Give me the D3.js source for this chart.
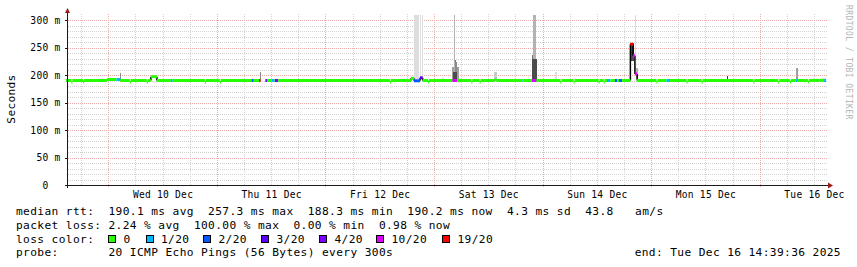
<!DOCTYPE html>
<html>
<head>
<meta charset="utf-8">
<script src="https://cdn.jsdelivr.net/npm/d3@7"></script>
<style>
  body { margin: 0; background: #fff; }
  svg { display: block; }
  text { font-family: "DejaVu Sans Mono", monospace; fill: #000; }
</style>
</head>
<body>
<div id="chart"></div>
<script>
// ---- data ----
const yTickValues = [0, 50, 100, 150, 200, 250, 300];
const yTickLabels = ["0  ", "50 m", "100 m", "150 m", "200 m", "250 m", "300 m"];

const dayLabels = ["Wed 10 Dec", "Thu 11 Dec", "Fri 12 Dec", "Sat 13 Dec", "Sun 14 Dec", "Mon 15 Dec", "Tue 16 Dec"];
const dayNoons = ["12-10 12:00", "12-11 12:00", "12-12 12:00", "12-13 12:00", "12-14 12:00", "12-15 12:00", "12-16 12:00"];

const lossLevels = [0, 1, 2, 3, 4, 10, 19];
const lossLabels = ["0", "1/20", "2/20", "3/20", "4/20", "10/20", "19/20"];
const lossColors = ["#26ff00", "#00b8ff", "#0059ff", "#5e00ff", "#7e00ff", "#dd00ff", "#ff0000"];

// median rtt in ms, step values [time, ms] (null = no data)
const medianSteps = [
  ["12-09 14:40", 190.0],
  ["12-09 15:50", 187.5], ["12-09 16:05", 190.0],
  ["12-09 18:25", 187.5], ["12-09 18:40", 190.0],
  ["12-09 23:45", 191.8], ["12-10 02:40", 190.0],
  ["12-10 04:45", 187.5], ["12-10 05:00", 190.0],
  ["12-10 08:30", 187.5], ["12-10 08:45", 190.0],
  ["12-10 09:25", 197.0], ["12-10 10:45", 190.0],
  ["12-10 21:20", 187.5], ["12-10 21:35", 190.0],
  ["12-11 00:40", 187.5], ["12-11 00:55", 190.0],
  ["12-11 09:40", null],  ["12-11 10:40", 190.0],
  ["12-12 14:15", 187.5], ["12-12 14:30", 190.0],
  ["12-12 18:55", 194.0], ["12-12 19:35", 189.5],
  ["12-12 20:55", 195.0], ["12-12 21:30", 190.0],
  ["12-12 22:40", 187.5], ["12-12 22:55", 190.0],
  ["12-13 08:15", 187.5], ["12-13 08:30", 190.0],
  ["12-13 10:05", 187.5], ["12-13 10:20", 190.0],
  ["12-13 13:25", 191.5], ["12-13 13:55", 190.0],
  ["12-14 03:55", 187.5], ["12-14 04:10", 190.0],
  ["12-14 06:50", 187.5], ["12-14 07:05", 190.0],
  ["12-14 12:25", 187.5], ["12-14 12:40", 190.0],
  ["12-14 13:30", 187.5], ["12-14 13:45", 190.0],
  ["12-14 19:25", 256.0], ["12-14 20:00", 235.0],
  ["12-14 20:25", 202.0], ["12-14 20:55", 190.0],
  ["12-15 01:10", 187.5], ["12-15 01:25", 190.0],
  ["12-15 07:50", 187.5], ["12-15 08:05", 190.0],
  ["12-15 11:10", 187.5], ["12-15 11:25", 190.0],
  ["12-15 22:35", 187.5], ["12-15 22:50", 190.0],
  ["12-16 04:05", 187.5], ["12-16 04:20", 190.0],
  ["12-16 06:40", 187.5], ["12-16 06:55", 190.0],
  ["12-16 10:40", 187.5], ["12-16 10:55", 190.2]
];

// packet loss periods [start, end, lost pings of 20]; everything else is 0
const lossSpans = [
  ["12-10 01:50", "12-10 02:40", 1],
  ["12-10 13:50", "12-10 14:15", 1],
  ["12-11 07:40", "12-11 08:10", 2],
  ["12-11 09:20", "12-11 09:40", 19],
  ["12-11 10:45", "12-11 11:05", 3],
  ["12-11 12:10", "12-11 12:45", 1],
  ["12-11 12:50", "12-11 13:35", 4],
  ["12-12 19:35", "12-12 20:55", 2],
  ["12-12 20:55", "12-12 21:30", 3],
  ["12-13 04:05", "12-13 05:10", 10],
  ["12-13 19:35", "12-13 19:50", 1],
  ["12-13 21:35", "12-13 22:40", 10],
  ["12-14 14:15", "12-14 15:00", 1],
  ["12-14 16:00", "12-14 16:30", 2],
  ["12-14 16:55", "12-14 17:35", 2],
  ["12-14 19:25", "12-14 20:00", 19],
  ["12-14 20:00", "12-14 20:55", 10],
  ["12-15 03:25", "12-15 04:10", 1],
  ["12-16 08:00", "12-16 08:25", 1],
  ["12-16 12:40", "12-16 12:55", 1],
  ["12-16 14:15", "12-16 14:40", 1]
];

// smoke: spread of the 20 pings [start, end, low ms, high ms, density 1..10]
const smokeBands = [
  ["12-10 02:30", "12-10 02:45", 190, 203, 5],
  ["12-11 09:30", "12-11 09:45", 190, 205, 5],
  ["12-12 19:35", "12-12 20:40", 192, 309, 1],
  ["12-12 20:50", "12-12 21:00", 195, 309, 1],
  ["12-12 21:20", "12-12 21:30", 195, 309, 1],
  ["12-13 01:45", "12-13 02:15", 190, 195, 1],
  ["12-13 04:00", "12-13 04:20", 190, 215, 4],
  ["12-13 04:20", "12-13 04:40", 190, 227, 6],
  ["12-13 04:40", "12-13 05:00", 190, 224, 5],
  ["12-13 05:00", "12-13 05:20", 190, 215, 4],
  ["12-13 04:25", "12-13 04:35", 190, 309, 3],
  ["12-13 04:10", "12-13 05:00", 190, 205, 8],
  ["12-13 13:10", "12-13 13:55", 190, 205, 2],
  ["12-13 21:35", "12-13 22:00", 190, 236, 6],
  ["12-13 22:00", "12-13 22:45", 190, 309, 3],
  ["12-13 21:45", "12-13 22:45", 190, 230, 8],
  ["12-14 02:45", "12-14 03:05", 190, 205, 1],
  ["12-14 20:25", "12-14 20:40", 200, 309, 1],
  ["12-14 19:25", "12-14 20:20", 225, 258, 8],
  ["12-14 20:35", "12-14 20:55", 195, 212, 3],
  ["12-15 16:50", "12-15 17:00", 190, 198, 9],
  ["12-15 17:10", "12-15 21:35", 190, 193, 1],
  ["12-16 08:00", "12-16 08:25", 190, 212, 4],
  ["12-16 13:40", "12-16 14:35", 190, 194, 1]
];

const statLines = [
  "median rtt:  190.1 ms avg  257.3 ms max  188.3 ms min  190.2 ms now  4.3 ms sd  43.8   am/s",
  "packet loss: 2.24 % avg  100.00 % max  0.00 % min  0.98 % now"
];
const probeLine = "probe:       20 ICMP Echo Pings (56 Bytes) every 300s";
const endLine = "end: Tue Dec 16 14:39:36 2025";

// ---- layout ----
const W = 857, H = 267;
const plot = { left: 66, right: 826, top: 15, bottom: 185, gridRight: 828 };
const axisX = 67.5;

const parse = d3.timeParse("%Y-%m-%d %H:%M");
const p = s => parse("2025-" + s);
const tStart = new Date(2025, 11, 9, 14, 39, 36);
const tEnd = new Date(2025, 11, 16, 14, 39, 36);

const x = d3.scaleTime().domain([tStart, tEnd]).range([plot.left, plot.right]);
const y = d3.scaleLinear().domain([0, 309.1]).range([plot.bottom, plot.top]);
const lossColor = d3.scaleOrdinal().domain(lossLevels).range(lossColors);
const smokeGrey = d3.scaleLinear().domain([1, 10]).range(["#dddddd", "#222222"]);
const crisp = v => Math.round(v) + 0.5;

const svg = d3.select("#chart").append("svg")
  .attr("width", W).attr("height", H)
  .attr("viewBox", `0 0 ${W} ${H}`);

// grid
const grid = svg.append("g").attr("shape-rendering", "crispEdges");
const minorY = d3.range(0, 310, 10).filter(v => v % 50 !== 0);
grid.selectAll(".hmin").data(minorY).enter().append("line")
  .attr("x1", axisX).attr("x2", plot.gridRight)
  .attr("y1", d => crisp(y(d))).attr("y2", d => crisp(y(d)))
  .attr("stroke", "#d2d2d2").attr("stroke-dasharray", "1,1");
const minorX = d3.timeHour.every(6).range(tStart, tEnd).filter(d => d.getHours() !== 0);
grid.selectAll(".vmin").data(minorX).enter().append("line")
  .attr("x1", d => crisp(x(d))).attr("x2", d => crisp(x(d)))
  .attr("y1", plot.top - 1).attr("y2", plot.bottom)
  .attr("stroke", "#d2d2d2").attr("stroke-dasharray", "1,1");
grid.selectAll(".hmaj").data(yTickValues.filter(v => v > 0)).enter().append("line")
  .attr("x1", axisX).attr("x2", plot.gridRight)
  .attr("y1", d => crisp(y(d))).attr("y2", d => crisp(y(d)))
  .attr("stroke", "#eeadad").attr("stroke-dasharray", "1,1");
const majorX = d3.timeDay.range(tStart, tEnd);
grid.selectAll(".vmaj").data(majorX).enter().append("line")
  .attr("x1", d => crisp(x(d))).attr("x2", d => crisp(x(d)))
  .attr("y1", plot.top - 1).attr("y2", plot.bottom + 3)
  .attr("stroke", "#eeadad").attr("stroke-dasharray", "1,1");

// smoke
svg.append("g").attr("shape-rendering", "crispEdges")
  .selectAll("rect").data(smokeBands).enter().append("rect")
  .attr("x", d => Math.round(x(p(d[0]))))
  .attr("width", d => Math.max(1, Math.round(x(p(d[1])) - x(p(d[0])))))
  .attr("y", d => y(d[3]))
  .attr("height", d => y(d[2]) - y(d[3]))
  .attr("fill", d => smokeGrey(d[4]));

// median, split at step and loss boundaries
const steps = medianSteps.map(([t, v]) => ({ t: +p(t), v }));
const spans = lossSpans.map(([a, b, l]) => ({ a: +p(a), b: +p(b), l }));
const bounds = Array.from(new Set([+tStart, ...steps.map(d => d.t), ...spans.flatMap(d => [d.a, d.b]), +tEnd]))
  .filter(t => t >= +tStart && t <= +tEnd).sort((a, b) => a - b);
const valueAt = t => { let v = null; steps.forEach(s => { if (s.t <= t) v = s.v; }); return v; };
const lossAt = t => { const s = spans.find(s => s.a <= t && t < s.b); return s ? s.l : 0; };
const segs = [];
for (let i = 0; i < bounds.length - 1; i++) {
  segs.push({ t0: bounds[i], t1: bounds[i + 1], v: valueAt(bounds[i]), l: lossAt(bounds[i]) });
}
const jumps = segs.filter((s, i) => i > 0 && s.v != null && segs[i - 1].v != null && Math.abs(s.v - segs[i - 1].v) > 3)
  .map(s => ({ t: s.t0, from: segs[segs.indexOf(s) - 1].v, to: s.v }));
const med = svg.append("g");
med.selectAll(".jump").data(jumps).enter().append("line")
  .attr("x1", d => x(d.t)).attr("x2", d => x(d.t))
  .attr("y1", d => y(d.from)).attr("y2", d => y(d.to))
  .attr("stroke", "#000").attr("stroke-width", 1.5);
med.selectAll(".seg").data(segs.filter(s => s.v != null)).enter().append("line")
  .attr("x1", d => x(d.t0)).attr("x2", d => x(d.t1))
  .attr("y1", d => y(d.v)).attr("y2", d => y(d.v))
  .attr("stroke", d => lossColor(d.l)).attr("stroke-width", 3);

// axes
const axisCol = "#1a1a1a";
const yAxis = svg.append("g").attr("transform", `translate(${axisX},0)`)
  .call(d3.axisLeft(y).tickValues(yTickValues).tickFormat((d, i) => yTickLabels[i]).tickSize(3).tickPadding(4));
yAxis.select(".domain").remove();
yAxis.selectAll(".tick line").attr("stroke", axisCol).attr("shape-rendering", "crispEdges");
yAxis.selectAll(".tick text")
  .style("font-size", "9.6px").style("letter-spacing", "0.25px")
  .attr("dy", "0.34em")
  .attr("dx", (d, i) => -(yTickLabels[i].length - yTickLabels[i].trimEnd().length) * 6.02)
  .text((d, i) => yTickLabels[i].trimEnd());

const xAxis = svg.append("g").attr("transform", `translate(0,${plot.bottom})`)
  .call(d3.axisBottom(x).tickValues(dayNoons.map(p)).tickFormat((d, i) => dayLabels[i]).tickSize(0));
xAxis.select(".domain").remove();
xAxis.selectAll(".tick text")
  .style("font-size", "9.6px").style("letter-spacing", "0.25px")
  .attr("y", 12.5).attr("dy", 0);

svg.append("line").attr("x1", axisX).attr("x2", axisX).attr("y1", 12).attr("y2", plot.bottom + 3)
  .attr("stroke", axisCol).attr("shape-rendering", "crispEdges");
svg.append("line").attr("x1", axisX - 3).attr("x2", plot.gridRight + 1).attr("y1", plot.bottom + 0.5).attr("y2", plot.bottom + 0.5)
  .attr("stroke", axisCol).attr("shape-rendering", "crispEdges");
svg.append("path").attr("d", `M${axisX - 2.5},13 L${axisX + 2.5},13 L${axisX},8 Z`).attr("fill", "#9b1b1b");
svg.append("path").attr("d", `M828,182.5 L828,188.5 L833,185.5 Z`).attr("fill", "#9b1b1b");

// y title
svg.append("text").attr("transform", "translate(15,99) rotate(-90)")
  .attr("text-anchor", "middle").style("font-size", "11.2px").style("letter-spacing", "0.3px")
  .text("Seconds");

// watermark
svg.append("text").attr("transform", "translate(846,5) rotate(90)")
  .style("font-size", "8px").style("letter-spacing", "0.4px").style("fill", "#b4b4b4")
  .text("RRDTOOL / TOBI OETIKER");

// legend
const legendFont = { size: "11.2px", spacing: "0.38px" };
const lx = 16, rowY = [215, 228.7, 242.5, 256.3];
const legend = svg.append("g");
statLines.forEach((s, i) => {
  legend.append("text").attr("x", lx).attr("y", rowY[i])
    .attr("xml:space", "preserve").style("white-space", "pre")
    .style("font-size", legendFont.size).style("letter-spacing", legendFont.spacing)
    .text(s);
});
legend.append("text").attr("x", lx).attr("y", rowY[2])
  .style("font-size", legendFont.size).style("letter-spacing", legendFont.spacing)
  .text("loss color:");
const boxX = [108.5, 146, 203.5, 261.5, 319.5, 376.5, 442.5];
const lossItems = legend.selectAll(".loss").data(lossLevels).enter().append("g");
lossItems.append("rect")
  .attr("x", (d, i) => boxX[i]).attr("y", rowY[2] - 7.5).attr("width", 7).attr("height", 7)
  .attr("fill", d => lossColor(d)).attr("stroke", "#000").attr("shape-rendering", "crispEdges");
lossItems.append("text")
  .attr("x", (d, i) => boxX[i] + 15).attr("y", rowY[2])
  .style("font-size", legendFont.size).style("letter-spacing", legendFont.spacing)
  .text((d, i) => lossLabels[i]);
legend.append("text").attr("x", lx).attr("y", rowY[3])
  .attr("xml:space", "preserve").style("white-space", "pre")
  .style("font-size", legendFont.size).style("letter-spacing", legendFont.spacing)
  .text(probeLine);
legend.append("text").attr("x", 841).attr("y", rowY[3]).attr("text-anchor", "end")
  .style("font-size", legendFont.size).style("letter-spacing", legendFont.spacing)
  .text(endLine);
</script>
</body>
</html>
